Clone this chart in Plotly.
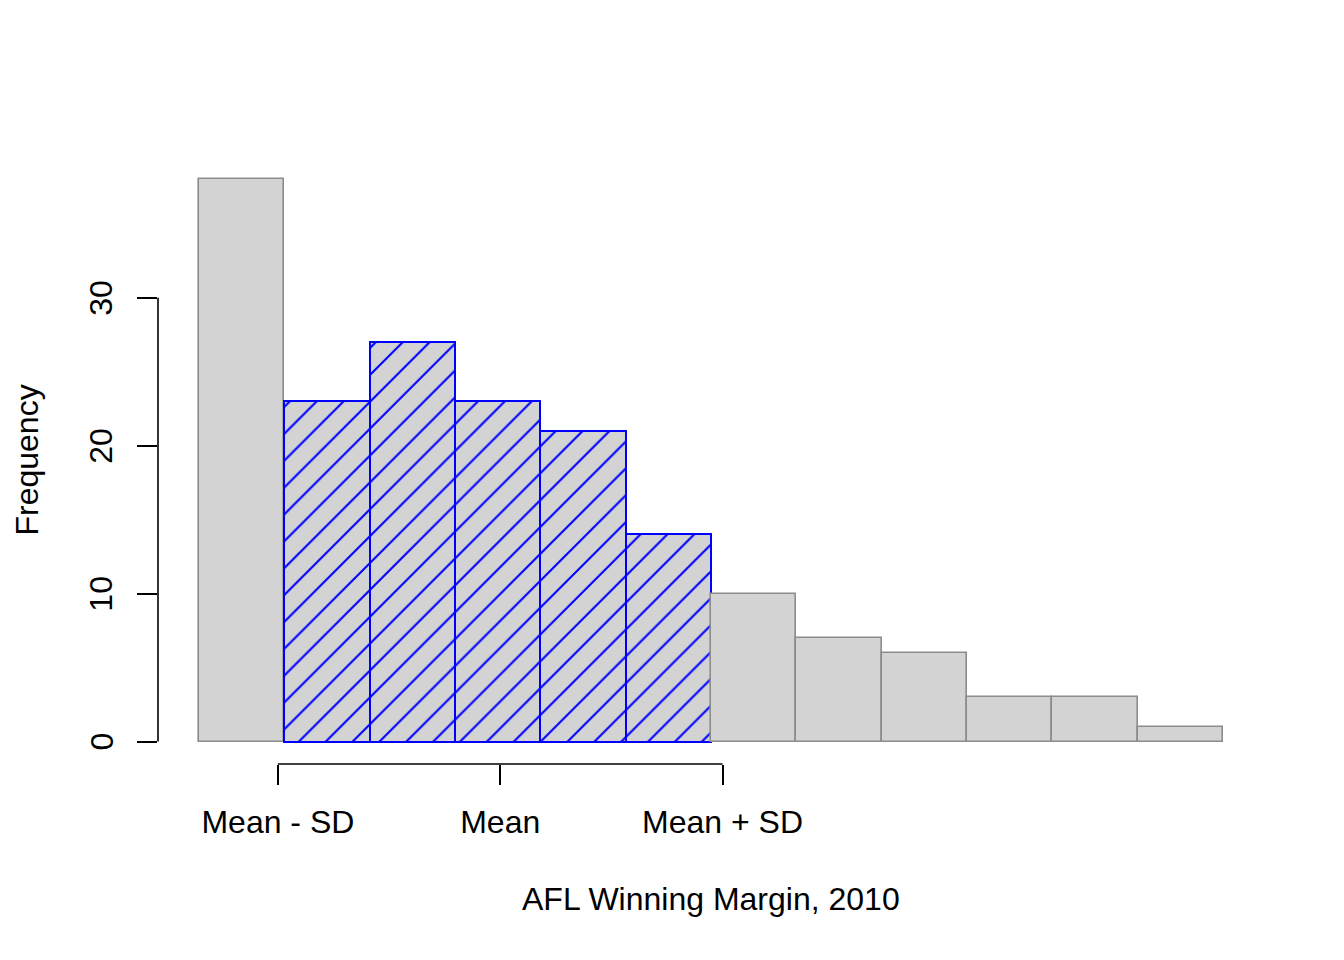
import plotly.graph_objects as go

# AFL winning margins 2010, histogram in bins of 10 points
bin_left = [0, 10, 20, 30, 40, 50, 60, 70, 80, 90, 100, 110]
counts = [38, 23, 27, 23, 21, 14, 10, 7, 6, 3, 3, 1]
bin_width = 10
margin_mean = 35.3
margin_sd = 26.05
y_ticks = [0, 10, 20, 30]
x_tick_text = ["Mean - SD", "Mean", "Mean + SD"]

mids = [b + bin_width / 2 for b in bin_left]
# bins whose middle falls within one sd of the mean get the blue hatching
shaded = [abs(m - margin_mean) <= margin_sd for m in mids]

font = dict(family="Liberation Sans, Arial, sans-serif", size=32, color="black")

fig = go.Figure()
fig.add_trace(go.Bar(
    x=mids, y=counts, width=bin_width,
    marker=dict(
        color="#d3d3d3",
        line=dict(color=["blue" if s else "#8c8c8c" for s in shaded],
                  width=[2 if s else 1.6 for s in shaded]),
        pattern=dict(shape=["/" if s else "" for s in shaded],
                     fgcolor="blue", bgcolor="#d3d3d3", fgopacity=1,
                     fillmode="overlay", size=19, solidity=0.11),
    ),
    hoverinfo="skip",
))

x_ticks = [margin_mean - margin_sd, margin_mean, margin_mean + margin_sd]
lo = bin_left[0]
hi = bin_left[-1] + bin_width
ylo, yhi = 0, max(counts)

fig.update_layout(
    width=1344, height=960,
    margin=dict(l=150, r=88, t=149, b=204),
    plot_bgcolor="white", paper_bgcolor="white",
    showlegend=False, bargap=0,
    font=font,
    xaxis=dict(range=[lo - 0.04 * (hi - lo), hi + 0.04 * (hi - lo)],
               tickvals=x_ticks, ticktext=x_tick_text,
               ticks="outside", ticklen=20, tickwidth=1.6, tickcolor="black",
               ticklabelstandoff=10,
               showgrid=False, zeroline=False, showline=False),
    yaxis=dict(range=[ylo - 0.04 * (yhi - ylo), yhi + 0.04 * (yhi - ylo)],
               tickvals=y_ticks, showticklabels=False,
               ticks="outside", ticklen=20, tickwidth=1.6, tickcolor="black",
               showgrid=False, zeroline=False, showline=False),
)

# R-style axis lines that only span the ticks
fig.add_shape(type="line", xref="paper", yref="y", x0=0, x1=0,
              y0=y_ticks[0], y1=y_ticks[-1], line=dict(color="black", width=1.6))
fig.add_shape(type="line", xref="x", yref="paper", x0=x_ticks[0], x1=x_ticks[-1],
              y0=0, y1=0, line=dict(color="black", width=1.6))

# y tick labels, rotated like R's las=0
for t in y_ticks:
    fig.add_annotation(text=str(t), xref="paper", yref="y",
                       x=-0.0515, y=t, xanchor="center", yanchor="middle",
                       textangle=-90, showarrow=False, font=font)

fig.add_annotation(text="AFL Winning Margin, 2010", xref="paper", yref="paper",
                   x=0.5, y=-0.2224, xanchor="center", yanchor="middle",
                   showarrow=False, font=font)
fig.add_annotation(text="Frequency", xref="paper", yref="paper",
                   x=-0.1193, y=0.5, xanchor="center", yanchor="middle",
                   textangle=-90, showarrow=False, font=font)

fig.write_html("out.html")
